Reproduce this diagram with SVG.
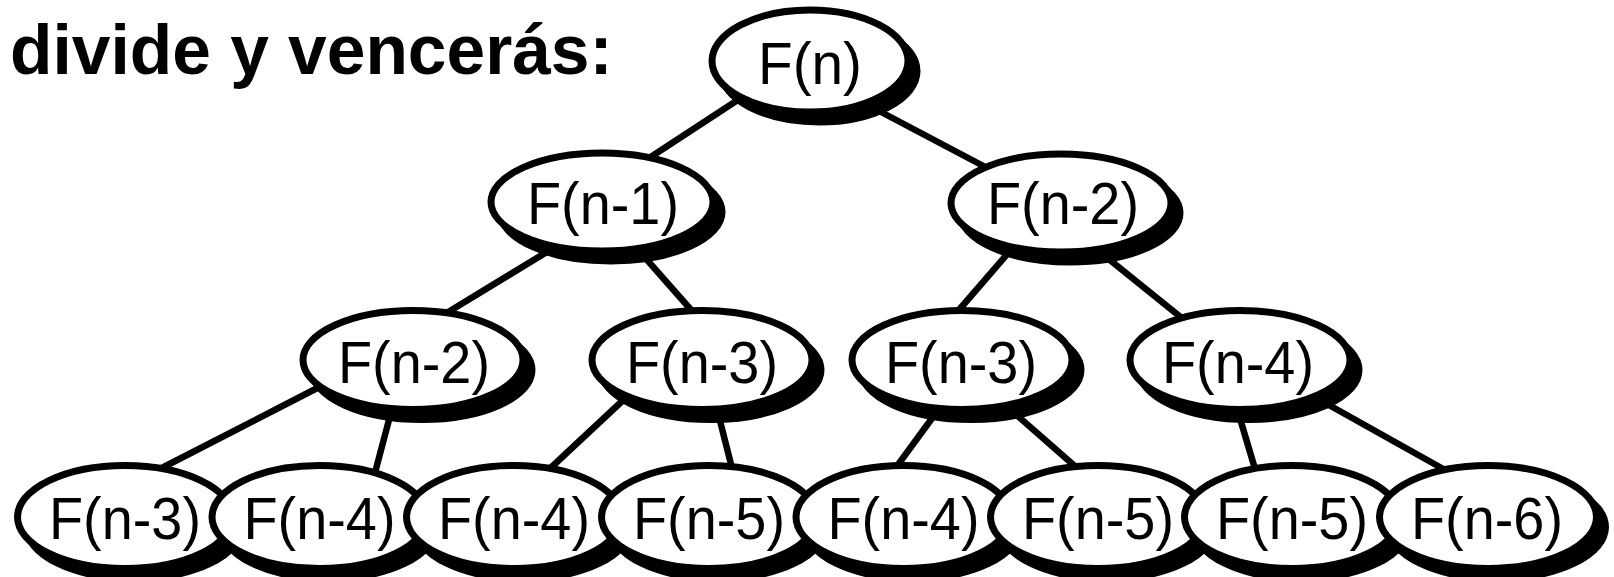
<svg xmlns="http://www.w3.org/2000/svg" width="1614" height="577" viewBox="0 0 1614 577">
<style>
.bg{fill:#fff}
.sh{fill:#000;stroke:#000;stroke-width:7}
.el{fill:#fff;stroke:#000;stroke-width:7}
.lbl{font-family:"Liberation Sans",Arial,sans-serif;font-size:60px;fill:#000;text-anchor:middle}
.title{font-family:"Liberation Sans",Arial,sans-serif;font-size:69.5px;font-weight:bold;fill:#000}
.cn line{stroke:#000;stroke-width:6.5}
</style>
<rect class="bg" x="0" y="0" width="1614" height="577"/>
<text class="title" x="10" y="74">divide y vencerás:</text>
<g id="connectors" class="cn">
<line x1="750" y1="92" x2="643" y2="162"/>
<line x1="864" y1="103" x2="991" y2="170"/>
<line x1="560" y1="244" x2="440" y2="317"/>
<line x1="633" y1="244" x2="700" y2="320"/>
<line x1="1022" y1="237" x2="952" y2="318"/>
<line x1="1090" y1="244" x2="1188" y2="323"/>
<line x1="329" y1="382" x2="152" y2="473"/>
<line x1="394" y1="401" x2="372" y2="484"/>
<line x1="633" y1="391" x2="543" y2="475"/>
<line x1="716" y1="405" x2="735" y2="480"/>
<line x1="941" y1="406" x2="889" y2="477"/>
<line x1="1004" y1="404" x2="1085" y2="475"/>
<line x1="1236" y1="405" x2="1258" y2="479"/>
<line x1="1311" y1="395" x2="1454" y2="475"/>
</g>
<g id="n0"><ellipse class="sh" cx="819" cy="71" rx="98" ry="51"/><ellipse class="el" cx="810" cy="61" rx="98" ry="51"/><text class="lbl" x="810" y="84" textLength="104" lengthAdjust="spacingAndGlyphs">F(n)</text></g>
<g id="n1"><ellipse class="sh" cx="611" cy="212" rx="111" ry="49"/><ellipse class="el" cx="602" cy="202" rx="111" ry="49"/><text class="lbl" x="603" y="224" textLength="152" lengthAdjust="spacingAndGlyphs">F(n-1)</text></g>
<g id="n2"><ellipse class="sh" cx="1070" cy="213" rx="110" ry="49"/><ellipse class="el" cx="1061" cy="203" rx="110" ry="49"/><text class="lbl" x="1063" y="224" textLength="152" lengthAdjust="spacingAndGlyphs">F(n-2)</text></g>
<g id="n3"><ellipse class="sh" cx="422" cy="370" rx="110" ry="49.5"/><ellipse class="el" cx="413" cy="360" rx="110" ry="49.5"/><text class="lbl" x="414" y="383" textLength="152" lengthAdjust="spacingAndGlyphs">F(n-2)</text></g>
<g id="n4"><ellipse class="sh" cx="711" cy="370" rx="110" ry="49.5"/><ellipse class="el" cx="702" cy="360" rx="110" ry="49.5"/><text class="lbl" x="702" y="383" textLength="152" lengthAdjust="spacingAndGlyphs">F(n-3)</text></g>
<g id="n5"><ellipse class="sh" cx="971" cy="370" rx="110" ry="49.5"/><ellipse class="el" cx="962" cy="360" rx="110" ry="49.5"/><text class="lbl" x="961" y="383" textLength="152" lengthAdjust="spacingAndGlyphs">F(n-3)</text></g>
<g id="n6"><ellipse class="sh" cx="1249" cy="370" rx="110" ry="49.5"/><ellipse class="el" cx="1240" cy="360" rx="110" ry="49.5"/><text class="lbl" x="1238" y="383" textLength="152" lengthAdjust="spacingAndGlyphs">F(n-4)</text></g>
<g id="n7"><ellipse class="sh" cx="134" cy="527" rx="107.5" ry="51.5"/><ellipse class="el" cx="125" cy="517" rx="107.5" ry="51.5"/><text class="lbl" x="125" y="539" textLength="152" lengthAdjust="spacingAndGlyphs">F(n-3)</text></g>
<g id="n8"><ellipse class="sh" cx="328.5" cy="527" rx="107.5" ry="51.5"/><ellipse class="el" cx="319.5" cy="517" rx="107.5" ry="51.5"/><text class="lbl" x="319.5" y="539" textLength="152" lengthAdjust="spacingAndGlyphs">F(n-4)</text></g>
<g id="n9"><ellipse class="sh" cx="523" cy="527" rx="107.5" ry="51.5"/><ellipse class="el" cx="514" cy="517" rx="107.5" ry="51.5"/><text class="lbl" x="514" y="539" textLength="152" lengthAdjust="spacingAndGlyphs">F(n-4)</text></g>
<g id="n10"><ellipse class="sh" cx="718" cy="527" rx="107.5" ry="51.5"/><ellipse class="el" cx="709" cy="517" rx="107.5" ry="51.5"/><text class="lbl" x="709" y="539" textLength="152" lengthAdjust="spacingAndGlyphs">F(n-5)</text></g>
<g id="n11"><ellipse class="sh" cx="912.5" cy="527" rx="107.5" ry="51.5"/><ellipse class="el" cx="903.5" cy="517" rx="107.5" ry="51.5"/><text class="lbl" x="903.5" y="539" textLength="152" lengthAdjust="spacingAndGlyphs">F(n-4)</text></g>
<g id="n12"><ellipse class="sh" cx="1107" cy="527" rx="107.5" ry="51.5"/><ellipse class="el" cx="1098" cy="517" rx="107.5" ry="51.5"/><text class="lbl" x="1098" y="539" textLength="152" lengthAdjust="spacingAndGlyphs">F(n-5)</text></g>
<g id="n13"><ellipse class="sh" cx="1301" cy="527" rx="107.5" ry="51.5"/><ellipse class="el" cx="1292" cy="517" rx="107.5" ry="51.5"/><text class="lbl" x="1292" y="539" textLength="152" lengthAdjust="spacingAndGlyphs">F(n-5)</text></g>
<g id="n14"><ellipse class="sh" cx="1497" cy="527" rx="108.5" ry="51.5"/><ellipse class="el" cx="1488" cy="517" rx="108.5" ry="51.5"/><text class="lbl" x="1487" y="539" textLength="152" lengthAdjust="spacingAndGlyphs">F(n-6)</text></g>
</svg>
